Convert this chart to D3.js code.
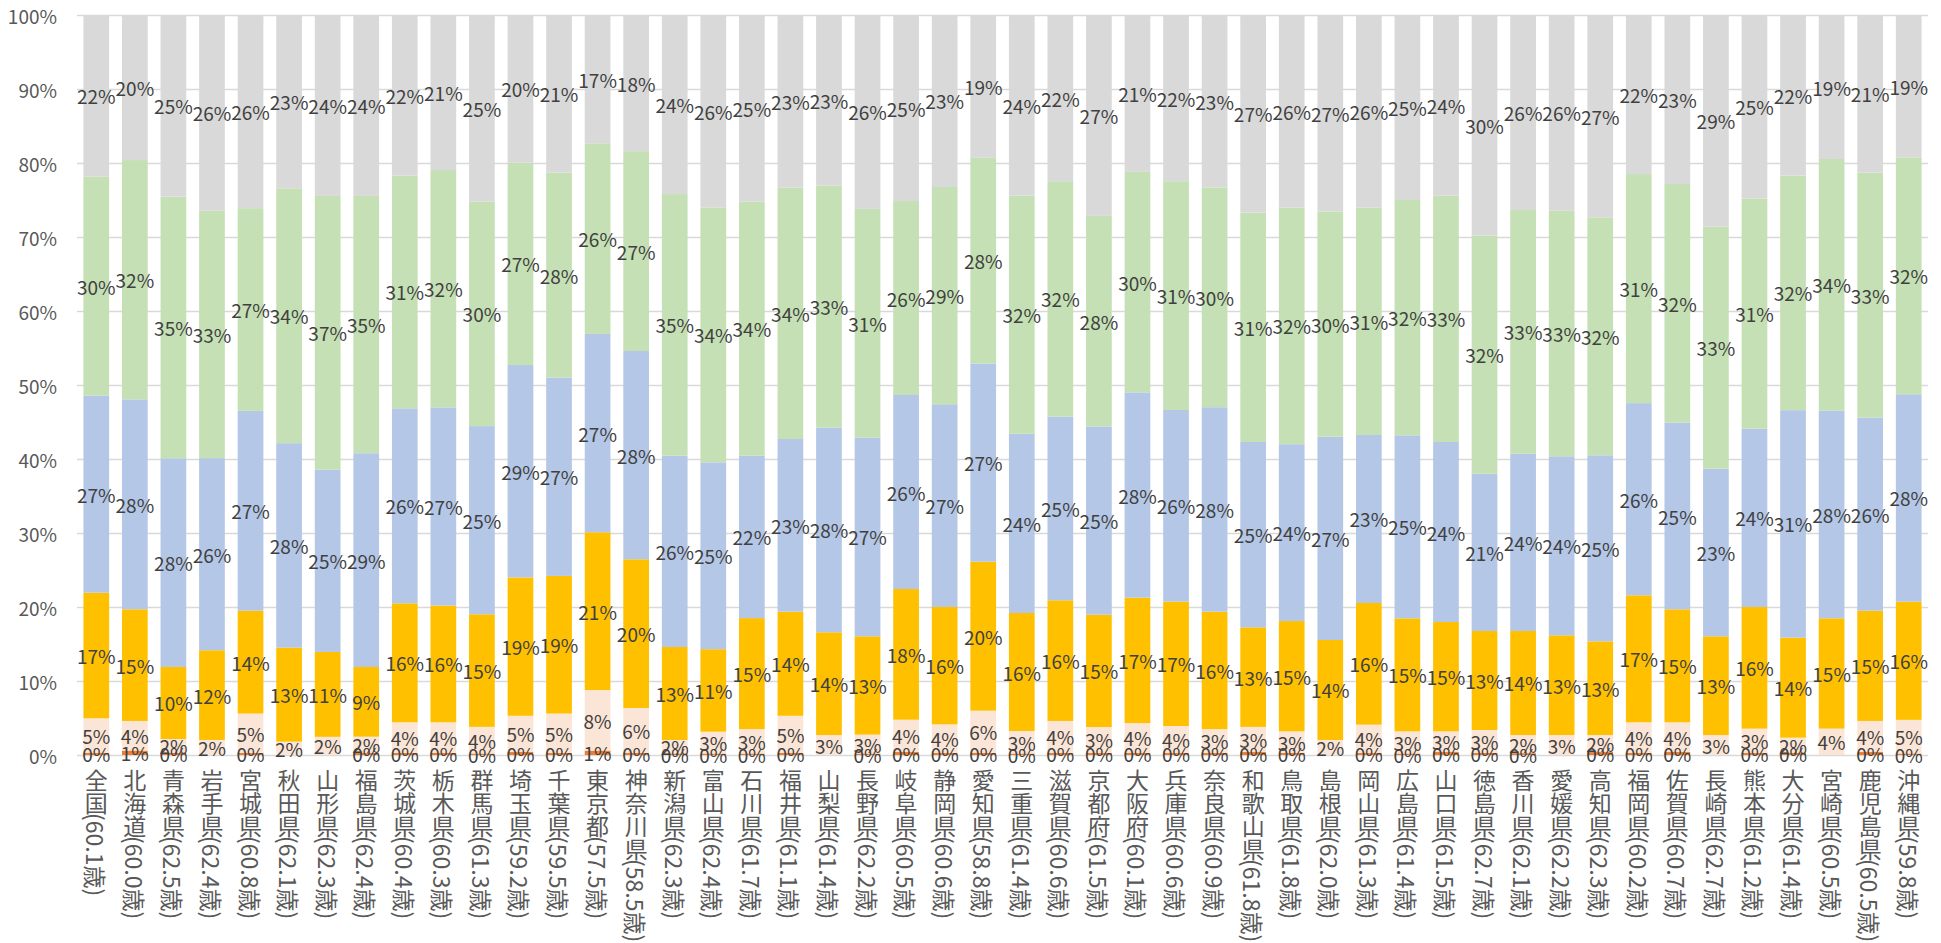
<!DOCTYPE html>
<html lang="ja">
<head>
<meta charset="utf-8">
<script src="https://cdn.jsdelivr.net/npm/d3@7"></script>
<style>
  html, body { margin: 0; padding: 0; background: #fff; }
  svg { display: block; font-family: "Noto Sans CJK JP", "Noto Sans", sans-serif; }
</style>
</head>
<body>
<svg id="chart" width="1941" height="943"></svg>
<script>
// prefectures (tick labels are name + mean age)
const names = ['全国', '北海道', '青森県', '岩手県', '宮城県', '秋田県', '山形県', '福島県',
  '茨城県', '栃木県', '群馬県', '埼玉県', '千葉県', '東京都', '神奈川県', '新潟県', '富山県',
  '石川県', '福井県', '山梨県', '長野県', '岐阜県', '静岡県', '愛知県', '三重県', '滋賀県',
  '京都府', '大阪府', '兵庫県', '奈良県', '和歌山県', '鳥取県', '島根県', '岡山県', '広島県',
  '山口県', '徳島県', '香川県', '愛媛県', '高知県', '福岡県', '佐賀県', '長崎県', '熊本県',
  '大分県', '宮崎県', '鹿児島県', '沖縄県'];
const ages = ['60.1', '60.0', '62.5', '62.4', '60.8', '62.1', '62.3', '62.4', '60.4', '60.3',
  '61.3', '59.2', '59.5', '57.5', '58.5', '62.3', '62.4', '61.7', '61.1', '61.4', '62.2', '60.5',
  '60.6', '58.8', '61.4', '60.6', '61.5', '60.1', '60.6', '60.9', '61.8', '61.8', '62.0', '61.3',
  '61.4', '61.5', '62.7', '62.1', '62.2', '62.3', '60.2', '60.7', '62.7', '61.2', '61.4', '60.5',
  '60.5', '59.8'];
const yTicks = [0, 0.1, 0.2, 0.3, 0.4, 0.5, 0.6, 0.7, 0.8, 0.9, 1];

// series, bottom to top (%)
const s1 = [0.3, 0.6, 0.3, null, 0.3, null, null, 0.3, 0.3, 0.3, 0.2, 0.4, 0.3, 0.6, 0.3, 0.2,
  0.2, 0.2, 0.3, null, 0.2, 0.4, 0.3, 0.3, 0.2, 0.3, 0.3, 0.3, 0.3, 0.3, 0.4, 0.3, null, 0.3,
  0.2, 0.4, 0.3, 0.25, null, 0.4, 0.3, 0.4, null, 0.3, 0.3, null, 0.4, 0.2];
const s2 = [4.66, 4.0, 1.86, 2.03, 5.3, 1.8, 2.45, 2.17, 4.12, 4.12, 3.6, 4.9, 5.3, 8.18, 6.05,
  1.83, 2.95, 3.3, 5.0, 2.7, 2.55, 4.37, 3.84, 5.69, 3.04, 4.3, 3.48, 4.02, 3.62, 3.2, 3.4, 2.9,
  2.03, 3.8, 3.0, 2.8, 3.08, 2.45, 2.7, 2.3, 4.12, 4.02, 2.7, 3.26, 2.04, 3.56, 4.2, 4.55];
const s3 = [16.97, 15.09, 9.74, 12.12, 13.9, 12.7, 11.45, 9.4, 16.08, 15.78, 15.2, 18.7, 18.6,
  21.32, 20.1, 12.57, 11.15, 15.0, 14.07, 13.88, 13.29, 17.66, 15.86, 20.13, 15.95, 16.3, 15.18,
  16.94, 16.8, 15.87, 13.45, 14.9, 13.51, 16.44, 15.27, 14.77, 13.38, 14.06, 13.47, 12.66, 17.16,
  15.27, 13.34, 16.44, 13.52, 14.91, 14.9, 15.97];
const s4 = [26.62, 28.37, 28.2, 25.95, 27.0, 27.6, 24.6, 28.83, 26.35, 26.78, 25.4, 28.7, 26.8,
  26.8, 28.15, 25.85, 25.25, 21.95, 23.33, 27.67, 26.86, 26.22, 27.4, 26.78, 24.21, 24.8, 25.44,
  27.74, 25.88, 27.63, 25.05, 23.9, 27.48, 22.71, 24.73, 24.33, 21.24, 23.94, 24.18, 25.14, 25.97,
  25.21, 22.66, 24.1, 30.74, 28.03, 26.1, 28.03];
const s5 = [29.6, 32.34, 35.35, 33.4, 27.4, 34.4, 36.9, 34.7, 31.45, 32.07, 30.3, 27.34, 27.7,
  25.76, 27.0, 35.35, 34.45, 34.35, 33.96, 32.68, 30.9, 26.21, 29.36, 27.8, 32.2, 31.8, 28.45,
  29.8, 30.9, 29.7, 31.0, 31.96, 30.43, 30.71, 31.8, 33.3, 32.2, 32.95, 33.15, 32.16, 30.95,
  32.26, 32.7, 31.1, 31.7, 34.0, 33.1, 32.02];
const s6 = [21.85, 19.6, 24.55, 26.45, 26.1, 23.4, 24.4, 24.4, 21.7, 20.95, 25.2, 19.96, 21.3,
  17.34, 18.4, 24.2, 26.0, 25.2, 23.34, 23.07, 26.2, 25.14, 23.24, 19.3, 24.4, 22.45, 27.15,
  21.2, 22.45, 23.3, 26.7, 26.04, 26.55, 26.04, 25.0, 24.4, 29.8, 26.35, 26.45, 27.34, 21.5,
  22.84, 28.6, 24.8, 21.7, 19.45, 21.3, 19.23];

const keys = ['s1', 's2', 's3', 's4', 's5', 's6'];
const colors = ['#ED7D31', '#FBE5D6', '#FFC000', '#B4C7E7', '#C5E0B4', '#D9D9D9'];

const rows = names.map((n, i) => ({
  name: n, s1: s1[i], s2: s2[i], s3: s3[i], s4: s4[i], s5: s5[i], s6: s6[i],
}));

const margin = { top: 15, right: 13, bottom: 188, left: 77 };
const W = 1941;
const H = 943;
const plotW = W - margin.left - margin.right;
const plotH = H - margin.top - margin.bottom;
const labelSize = 19;
const font = '"Noto Sans CJK JP", sans-serif';

const svg = d3.select('#chart');

const x = d3.scaleBand()
  .domain(names)
  .range([margin.left, margin.left + plotW])
  .paddingInner(1 / 3)
  .paddingOuter(1 / 6);

const y = d3.scaleLinear()
  .domain([0, 1])
  .range([margin.top + plotH, margin.top]);

const color = d3.scaleOrdinal().domain(keys).range(colors);

// gridlines from the y axis, labels drawn separately
const yAxis = svg.append('g')
  .attr('transform', `translate(${margin.left},0)`)
  .call(d3.axisLeft(y)
    .tickValues(yTicks)
    .tickFormat('')
    .tickSize(-plotW));
yAxis.select('.domain').remove();
yAxis.selectAll('.tick line').attr('stroke', '#D9D9D9').attr('stroke-width', 1.6);
yAxis.selectAll('.tick text').remove();

svg.append('g')
  .selectAll('text')
  .data(yTicks)
  .join('text')
  .attr('x', margin.left - 20)
  .attr('y', d => y(d))
  .attr('text-anchor', 'end')
  .attr('dominant-baseline', 'central')
  .attr('fill', '#595959')
  .attr('font-size', labelSize)
  .attr('font-family', font)
  .text(d3.format('.0%'));

const stack = d3.stack()
  .keys(keys)
  .value((d, k) => d[k] ?? 0)
  .offset(d3.stackOffsetExpand);
const series = stack(rows);

// bars
svg.append('g')
  .selectAll('g')
  .data(series)
  .join('g')
  .attr('fill', d => color(d.key))
  .selectAll('rect')
  .data(d => d)
  .join('rect')
  .attr('x', d => x(d.data.name))
  .attr('width', x.bandwidth())
  .attr('y', d => y(d[1]))
  .attr('height', d => y(d[0]) - y(d[1]));

// data labels, centred in each segment
const labels = [];
series.forEach(s => {
  s.forEach(d => {
    const v = d.data[s.key];
    if (v === null || v === undefined) return;
    labels.push({ name: d.data.name, v, mid: (d[0] + d[1]) / 2 });
  });
});

svg.append('g')
  .selectAll('text')
  .data(labels)
  .join('text')
  .attr('x', d => x(d.name) + x.bandwidth() / 2)
  .attr('y', d => y(d.mid))
  .attr('text-anchor', 'middle')
  .attr('dominant-baseline', 'central')
  .attr('font-size', labelSize)
  .attr('font-family', font)
  .attr('fill', '#404040')
  .text(d => `${Math.round(d.v)}%`);

// category axis: name stacked upright, one glyph per line, age part turned sideways
const fs = 23;
const xAxis = svg.append('g')
  .attr('transform', `translate(0,${margin.top + plotH + 12})`)
  .call(d3.axisBottom(x).tickSize(0).tickFormat(''));
xAxis.select('.domain').remove();
xAxis.selectAll('.tick').each(function (d, i) {
  const t = d3.select(this);
  const chars = Array.from(d);
  t.selectAll('text.ch')
    .data(chars)
    .join('text')
    .attr('class', 'ch')
    .attr('x', 0)
    .attr('y', (c, k) => (k + 0.5) * fs)
    .attr('text-anchor', 'middle')
    .attr('dominant-baseline', 'central')
    .attr('font-size', fs)
    .attr('fill', '#595959')
    .attr('font-family', font)
    .text(c => c);
  t.append('text')
    .attr('transform', `translate(0,${chars.length * fs}) rotate(90)`)
    .attr('text-anchor', 'start')
    .attr('dominant-baseline', 'central')
    .attr('font-size', fs)
    .attr('fill', '#595959')
    .attr('font-family', font)
    .text(`(${ages[i]}歳)`);
});
</script>
</body>
</html>
